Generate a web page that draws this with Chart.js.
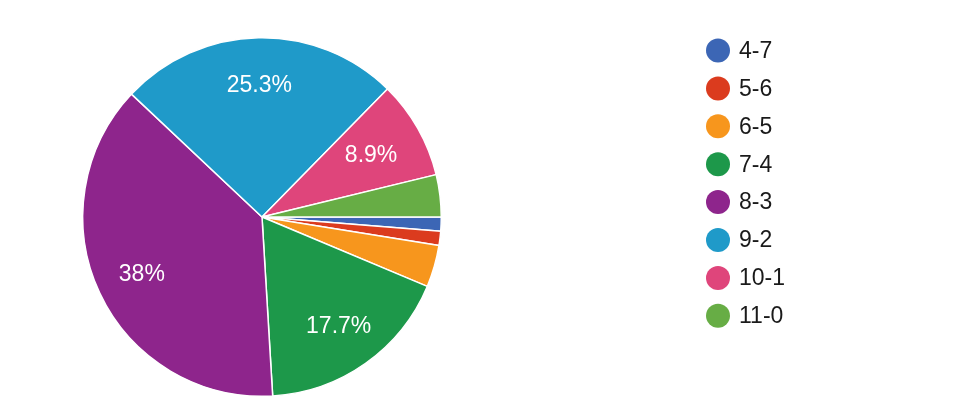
<!DOCTYPE html>
<html>
<head>
<meta charset="utf-8">
<script src="https://cdn.jsdelivr.net/npm/chart.js@4"></script>
<style>
html,body{margin:0;padding:0;background:#fff;}
#wrap{width:968px;height:415px;position:relative;}
</style>
</head>
<body>
<div id="wrap"><canvas id="c"></canvas></div>
<script>
const categories = ['4-7','5-6','6-5','7-4','8-3','9-2','10-1','11-0'];
const counts = [1, 1, 3, 14, 30, 20, 7, 3];
const colors = ['#3c66b5','#db3b1e','#f7961d','#1d984a','#8e258c','#1f9ac9','#df457b','#67ad45'];

const FONT = 'Arial, "Liberation Sans", sans-serif';

function fmtPct(v, total){
  let s = (v/total*100).toFixed(1);
  if (s.endsWith('.0')) s = s.slice(0,-2);
  return s + '%';
}

const sliceLabels = {
  id: 'sliceLabels',
  afterDatasetsDraw(chart){
    const ctx = chart.ctx;
    const data = chart.data.datasets[0].data;
    const total = data.reduce((a,b)=>a+b,0);
    const meta = chart.getDatasetMeta(0);
    ctx.save();
    ctx.fillStyle = '#ffffff';
    ctx.font = '23px ' + FONT;
    ctx.textAlign = 'center';
    ctx.textBaseline = 'middle';
    meta.data.forEach((arc, i) => {
      if (data[i]/total < 0.05) return;
      const p = arc.getProps(['x','y','startAngle','endAngle','outerRadius'], true);
      const mid = (p.startAngle + p.endAngle)/2;
      const frac = data[i]/total;
      const r = p.outerRadius * (frac < 0.12 ? 0.70 : 0.74);
      ctx.fillText(fmtPct(data[i], total), p.x + Math.cos(mid)*r, p.y + Math.sin(mid)*r + 1);
    });
    ctx.restore();
  }
};

const sideLegend = {
  id: 'sideLegend',
  afterDraw(chart){
    const ctx = chart.ctx;
    const labels = chart.data.labels;
    const bg = chart.data.datasets[0].backgroundColor;
    ctx.save();
    ctx.font = '23px ' + FONT;
    ctx.textBaseline = 'middle';
    ctx.textAlign = 'left';
    labels.forEach((lab, i) => {
      const y = 50.5 + i*37.9;
      ctx.beginPath();
      ctx.arc(718, y, 12, 0, Math.PI*2);
      ctx.fillStyle = bg[i];
      ctx.fill();
      ctx.fillStyle = '#1a1a1a';
      ctx.fillText(lab, 739, y + 1);
    });
    ctx.restore();
  }
};

new Chart(document.getElementById('c'), {
  type: 'pie',
  data: {
    labels: categories,
    datasets: [{
      data: counts,
      backgroundColor: colors,
      borderColor: '#ffffff',
      borderWidth: 1.5
    }]
  },
  options: {
    responsive: true,
    maintainAspectRatio: false,
    animation: false,
    rotation: 90,
    layout: { padding: { left: 82, top: 37, right: 968-442, bottom: 415-397 } },
    plugins: {
      legend: { display: false },
      tooltip: { enabled: false }
    }
  },
  plugins: [sliceLabels, sideLegend]
});
</script>
</body>
</html>
